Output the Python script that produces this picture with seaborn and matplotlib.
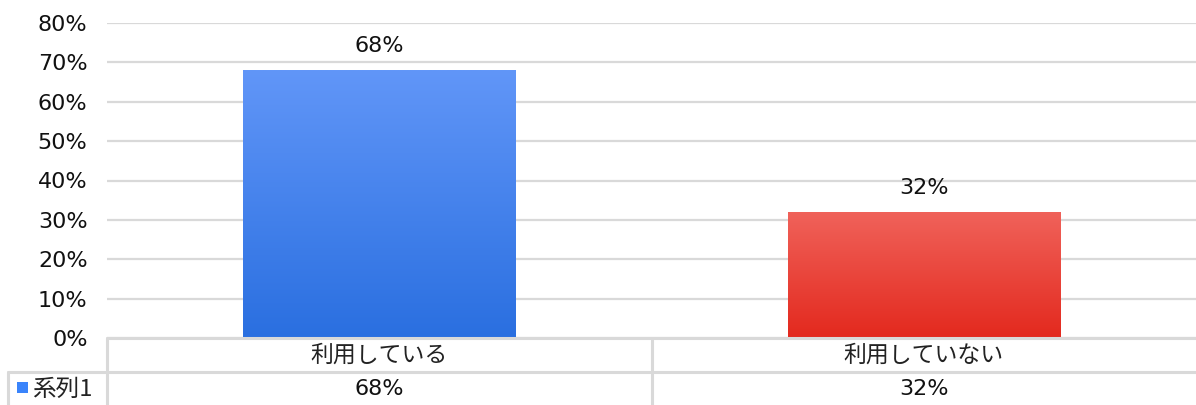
import numpy as np
import pandas as pd
import matplotlib.pyplot as plt
import seaborn as sns
from matplotlib.colors import LinearSegmentedColormap
from matplotlib.lines import Line2D
from matplotlib.ticker import PercentFormatter

# データ
categories = ['利用している', '利用していない']
values = [0.68, 0.32]
series_name = '系列1'
value_labels = ['68%', '32%']

# 棒の上と下の色（グラデーション）
grad_top = ['#6196f8', '#f0625a']
grad_bottom = ['#2a6fe0', '#e3291e']

sns.set_style('white')
plt.rcParams['font.family'] = ['DejaVu Sans', 'Noto Sans CJK JP']
cjk = ['Noto Sans CJK JP', 'DejaVu Sans']

df = pd.DataFrame({'区分': categories, '割合': values})

fig = plt.figure(figsize=(11.96, 4.05), dpi=100)
W, H = 1196, 405
ax = fig.add_axes([107 / W, (H - 338) / H, (W - 107) / W, (338 - 23) / H])

sns.barplot(data=df, x='区分', y='割合', width=0.5, ax=ax, color='#3a84fb')

ax.set_yticks(np.arange(0, 0.81, 0.1))
ax.yaxis.set_major_formatter(PercentFormatter(1.0, decimals=0))
ax.tick_params(axis='y', labelsize=16, pad=14, length=0, labelcolor='#111111')
ax.set_xticks([])
ax.set_xlabel('')
ax.set_ylabel('')
ax.grid(axis='y', color='#d9d9d9', linewidth=1.6)
ax.set_axisbelow(True)
sns.despine(ax=ax, left=True, bottom=True, top=True, right=True)

# グラデーションで塗り直す
for i, p in enumerate(ax.patches):
    x0, y0 = p.get_x(), p.get_y()
    w, h = p.get_width(), p.get_height()
    cmap = LinearSegmentedColormap.from_list('g', [grad_bottom[i], grad_top[i]])
    grad = np.linspace(0, 1, 256).reshape(-1, 1)
    ax.imshow(grad, extent=[x0, x0 + w, y0, y0 + h], origin='lower',
              aspect='auto', cmap=cmap, zorder=2)
    p.set_facecolor('none')
    p.set_edgecolor('none')
    ax.text(x0 + w / 2, y0 + h + 0.036, value_labels[i], ha='center', va='bottom',
            fontsize=16, color='#111111')

ax.set_xlim(-0.5, 1.5)
ax.set_ylim(0, 0.8)

# 下のデータテーブル
def fline(x0, y0, x1, y1):
    fig.add_artist(Line2D([x0 / W, x1 / W], [1 - y0 / H, 1 - y1 / H],
                          color='#d9d9d9', linewidth=2.2, transform=fig.transFigure))

fline(107, 338, W, 338)
fline(8, 372, W, 372)
fline(107, 338, 107, H)
fline(8, 372, 8, H)
fline(652, 338, 652, H)

for i, cat in enumerate(categories):
    xf = fig.transFigure.inverted().transform(ax.transData.transform((i, 0)))[0]
    fig.text(xf, 1 - 355 / H, cat, ha='center', va='center', fontsize=16.5,
             family=cjk, color='#222222')
    fig.text(xf, 1 - 389 / H, value_labels[i], ha='center', va='center', fontsize=16,
             color='#111111')

fig.patches.append(plt.Rectangle((17 / W, 1 - 393 / H), 11 / W, 11 / H, facecolor='#3a84fb',
                                 edgecolor='none', transform=fig.transFigure, figure=fig))
fig.text(32 / W, 1 - 389 / H, series_name, ha='left', va='center', fontsize=17,
         family=cjk, color='#222222')

fig.savefig('out.png', dpi=100)
